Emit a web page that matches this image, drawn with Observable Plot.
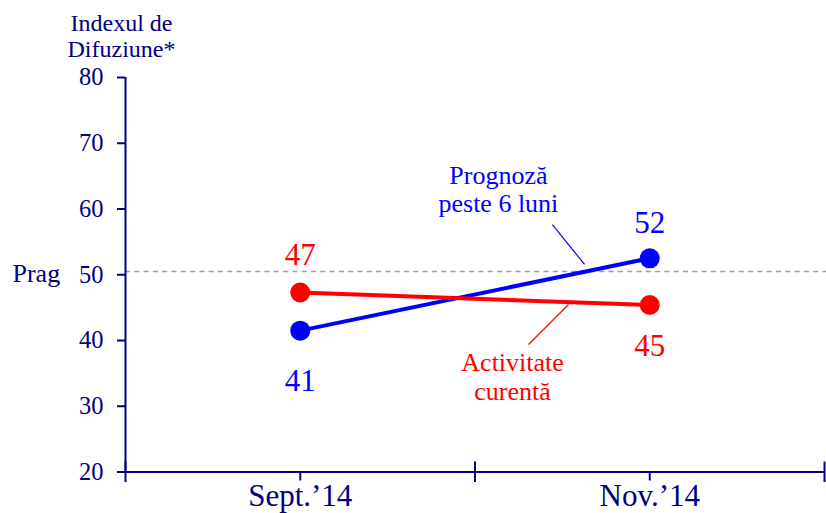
<!DOCTYPE html>
<html><head><meta charset="utf-8">
<script src="https://cdn.jsdelivr.net/npm/d3@7"></script>
<script src="https://cdn.jsdelivr.net/npm/@observablehq/plot@0.6"></script>
<style>body{margin:0;background:#fff;}</style>
</head><body><div id="chart"></div>
<script>
// ---- data ----
const periods = ["Sept.’14", "Nov.’14"];
const periodPositions = [1, 3];
const axisBreaks = [0, 2, 4];
const activitateCurenta = [47.3, 45.4];
const activitateLabels = ["47", "45"];
const prognoza = [41.5, 52.5];
const prognozaLabels = ["41", "52"];
const yTicks = [20, 30, 40, 50, 60, 70, 80];
const prag = 50.5;
const annotationTexts = ["Prognoză\npeste 6 luni", "Activitate\ncurentă"];
const annotationX = [2.134, 2.215];
const annotationY = [62.97, 34.52];
const leaderX1 = [2.443, 2.306];
const leaderY1 = [57.64, 39.39];
const leaderX2 = [2.627, 2.535];
const leaderY2 = [51.56, 45.48];

const NAVY = "#000080", BLUE = "#0000ff", RED = "#ff0000";
const seriesColors = [BLUE, RED];

const rows = [];
periods.forEach((p, i) => {
  rows.push({series: "Prognoza", x: periodPositions[i], y: prognoza[i], label: prognozaLabels[i], idx: i});
  rows.push({series: "Activitate", x: periodPositions[i], y: activitateCurenta[i], label: activitateLabels[i], idx: i});
});
const ann = annotationTexts.map((t, i) => ({t, x: annotationX[i], y: annotationY[i],
  x1: leaderX1[i], y1: leaderY1[i], x2: leaderX2[i], y2: leaderY2[i], c: seriesColors[i]}));

const labelOffsets = {"Activitate0": -37, "Prognoza0": 50, "Prognoza1": -35, "Activitate1": 41};

const serif = "'Liberation Serif', 'Times New Roman', serif";

const chart = Plot.plot({
  width: 826, height: 513,
  marginLeft: 125, marginRight: 2, marginTop: 77, marginBottom: 41.5,
  x: {domain: [0, 4], axis: null},
  y: {domain: [20, 80], axis: null},
  style: {fontFamily: serif, color: NAVY, background: "white", overflow: "visible"},
  marks: [
    Plot.ruleY([prag], {x1: 0, x2: 4, insetRight: -2, stroke: "#9a98c0", strokeWidth: 1.5, strokeDasharray: "5,4.3"}),
    Plot.ruleX([0], {y1: 20, y2: 80, stroke: NAVY, strokeWidth: 2}),
    Plot.ruleY([20], {x1: 0, x2: 4, stroke: NAVY, strokeWidth: 2}),
    Plot.ruleX(axisBreaks, {x: d => d, y1: 20, y2: 20, insetTop: -10, insetBottom: -10.5, stroke: NAVY, strokeWidth: 2}),
    Plot.axisY({ticks: yTicks, tickSize: 8, tickPadding: 14, fontSize: 24.5, stroke: NAVY, fill: NAVY, strokeWidth: 2}),
    Plot.axisX({ticks: periodPositions, tickFormat: d => periods[periodPositions.indexOf(d)], tickSize: 9, tickPadding: 3, fontSize: 31, stroke: NAVY, fill: NAVY, strokeWidth: 2}),
    Plot.text([prag], {y: d => d, frameAnchor: "left", text: () => "Prag", textAnchor: "start", dx: -113, dy: 2, fontSize: 26, fill: NAVY}),
    Plot.text(["Indexul de\nDifuziune*"], {frameAnchor: "top-left", text: d => d, textAnchor: "middle", lineAnchor: "middle", dx: -4, dy: -41.5, fontSize: 24, lineHeight: 1.05, fill: NAVY}),
    Plot.line(rows, {x: "x", y: "y", z: "series", stroke: d => d.series === "Prognoza" ? BLUE : RED, strokeWidth: 4}),
    Plot.dot(rows, {x: "x", y: "y", r: 10, fill: d => d.series === "Prognoza" ? BLUE : RED, stroke: null}),
    ...rows.map(r => Plot.text([r], {x: "x", y: "y", text: "label", dy: labelOffsets[r.series + r.idx], fontSize: 31,
      fill: r.series === "Prognoza" ? BLUE : RED})),
    Plot.link(ann, {x1: "x1", y1: "y1", x2: "x2", y2: "y2", stroke: d => d.c, strokeWidth: 1.2}),
    Plot.text(ann, {x: "x", y: "y", text: "t", fill: d => d.c, fontSize: 26, lineHeight: 1.08})
  ]
});
document.getElementById("chart").appendChild(chart);
</script>
</body></html>
